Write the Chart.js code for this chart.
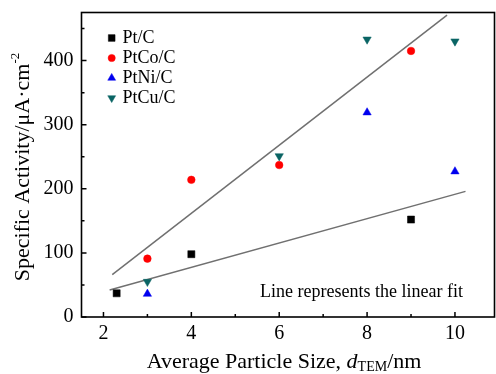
<!DOCTYPE html>
<html><head><meta charset="utf-8">
<script src="https://cdn.jsdelivr.net/npm/chart.js@4.4.0/dist/chart.umd.min.js"></script>
<style>html,body{margin:0;padding:0;background:#fff}#wrap{width:496px;height:374px;position:relative}</style>
</head><body><div id="wrap"><canvas id="c" width="496" height="374"></canvas></div>
<script>
const seriesNames = ['Pt/C', 'PtCo/C', 'PtNi/C', 'PtCu/C'];
const ptC_x = [2.3, 4, 9];
const ptC_y = [37, 98, 152];
const ptCo_x = [3, 4, 6, 9];
const ptCo_y = [91, 214, 237, 415];
const ptNi_x = [3, 8, 10];
const ptNi_y = [36, 319, 227];
const ptCu_x = [3, 6, 8, 10];
const ptCu_y = [55, 251, 433, 430];
const fitUpper_x = [2.2, 9.82];
const fitUpper_y = [66, 471];
const fitLower_x = [2.14, 10.24];
const fitLower_y = [42, 196];
const xTickValues = [2, 4, 6, 8, 10];
const yTickValues = [0, 100, 200, 300, 400];
const xMinorValues = [3, 5, 7, 9];
const yMinorValues = [50, 150, 250, 350, 450];
const xTitleParts = ['Average Particle Size, ', 'd', 'TEM', '/nm'];
const yTitleParts = ['Specific Activity/μA·cm', '-2'];
const noteText = 'Line represents the linear fit';

const FONT = '"Liberation Serif", "Times New Roman", serif';
Chart.defaults.font.family = FONT;
const pts = (xs, ys) => xs.map((x, i) => ({x: x, y: ys[i]}));

const styles = [
  {pointStyle: 'rect', radius: 5, rotation: 0, color: '#000000'},
  {pointStyle: 'circle', radius: 3.8, rotation: 0, color: '#ff0000'},
  {pointStyle: 'triangle', radius: 4.8, rotation: 0, color: '#0000ee'},
  {pointStyle: 'triangle', radius: 4.8, rotation: 180, color: '#0a6464'}
];
const seriesData = [pts(ptC_x, ptC_y), pts(ptCo_x, ptCo_y), pts(ptNi_x, ptNi_y), pts(ptCu_x, ptCu_y)];

const datasets = seriesData.map((d, i) => ({
  label: seriesNames[i], data: d, showLine: false,
  pointStyle: styles[i].pointStyle, pointRadius: styles[i].radius, pointRotation: styles[i].rotation,
  backgroundColor: styles[i].color, borderColor: styles[i].color, pointBorderWidth: 0.5
}));
[[fitUpper_x, fitUpper_y], [fitLower_x, fitLower_y]].forEach(f => {
  datasets.push({label: 'fit', data: pts(f[0], f[1]), showLine: true, pointRadius: 0,
    borderColor: '#707070', borderWidth: 1.5, fill: false});
});

const decor = {
  id: 'decor',
  afterDatasetsDraw(chart) {
    const ctx = chart.ctx, a = chart.chartArea, xs = chart.scales.x, ys = chart.scales.y;
    ctx.save();
    ctx.strokeStyle = '#000'; ctx.lineWidth = 1.6;
    ctx.strokeRect(a.left, a.top, a.right - a.left, a.bottom - a.top);
    ctx.lineWidth = 1.5;
    ctx.beginPath();
    xTickValues.forEach(v => { const p = xs.getPixelForValue(v); ctx.moveTo(p, a.bottom); ctx.lineTo(p, a.bottom - 5); });
    xMinorValues.forEach(v => { const p = xs.getPixelForValue(v); ctx.moveTo(p, a.bottom); ctx.lineTo(p, a.bottom - 3); });
    yTickValues.forEach(v => { const p = ys.getPixelForValue(v); ctx.moveTo(a.left, p); ctx.lineTo(a.left + 5, p); });
    yMinorValues.forEach(v => { const p = ys.getPixelForValue(v); ctx.moveTo(a.left, p); ctx.lineTo(a.left + 3, p); });
    ctx.stroke();

    // legend
    ctx.fillStyle = '#000';
    ctx.textBaseline = 'alphabetic';
    ctx.textAlign = 'left';
    ctx.font = '18px ' + FONT;
    seriesNames.forEach((n, i) => {
      const cy = 38 + i * 20;
      const s = styles[i];
      ctx.fillStyle = s.color; ctx.strokeStyle = s.color; ctx.lineWidth = 0.5;
      Chart.helpers.drawPoint(ctx, {pointStyle: s.pointStyle, radius: s.radius * 0.95, rotation: s.rotation, borderWidth: 0.5}, 111.7, cy);
      ctx.fillStyle = '#000';
      ctx.fillText(n, 122.5, cy + 5);
    });

    // note
    ctx.font = '18px ' + FONT;
    ctx.fillText(noteText, 260, 297);

    // x title
    const base = 368;
    const parts = [
      {t: xTitleParts[0], f: '22px ' + FONT, dy: 0},
      {t: xTitleParts[1], f: 'italic 22px ' + FONT, dy: 0},
      {t: xTitleParts[2], f: '14px ' + FONT, dy: 3},
      {t: xTitleParts[3], f: '22px ' + FONT, dy: 0}
    ];
    let tw = 0;
    parts.forEach(p => { ctx.font = p.f; p.w = ctx.measureText(p.t).width; tw += p.w; });
    let x0 = 284 - tw / 2;
    parts.forEach(p => { ctx.font = p.f; ctx.fillText(p.t, x0, base + p.dy); x0 += p.w; });

    // y title
    ctx.translate(29, 167);
    ctx.rotate(-Math.PI / 2);
    const yp = [
      {t: yTitleParts[0], f: '22px ' + FONT, dy: 0},
      {t: yTitleParts[1], f: '13px ' + FONT, dy: -10}
    ];
    let yw = 0;
    yp.forEach(p => { ctx.font = p.f; p.w = ctx.measureText(p.t).width; yw += p.w; });
    let y0 = -yw / 2;
    yp.forEach(p => { ctx.font = p.f; ctx.fillText(p.t, y0, p.dy); y0 += p.w; });
    ctx.restore();
  }
};

const zeroPad = s => { s.paddingTop = 0; s.paddingBottom = 0; s.paddingLeft = 0; s.paddingRight = 0; };

new Chart(document.getElementById('c'), {
  type: 'scatter',
  data: {datasets: datasets},
  options: {
    responsive: false, animation: false,
    layout: {autoPadding: false, padding: {top: 12.5, right: 1.5, left: 0, bottom: 0}},
    plugins: {legend: {display: false}, tooltip: {enabled: false}},
    scales: {
      x: {type: 'linear', min: 1.5, max: 10.9,
        grid: {display: false, drawTicks: false}, border: {display: false},
        ticks: {font: {family: FONT, size: 20}, color: '#000', padding: 5, maxRotation: 0},
        afterBuildTicks: s => { s.ticks = xTickValues.map(v => ({value: v})); },
        afterFit: s => { s.height = 57; zeroPad(s); }},
      y: {type: 'linear', min: 0, max: 475,
        grid: {display: false, drawTicks: false}, border: {display: false},
        ticks: {font: {family: FONT, size: 20}, color: '#000', padding: 8},
        afterBuildTicks: s => { s.ticks = yTickValues.map(v => ({value: v})); },
        afterFit: s => { s.width = 81.5; zeroPad(s); }}
    }
  },
  plugins: [decor]
});
</script></body></html>
